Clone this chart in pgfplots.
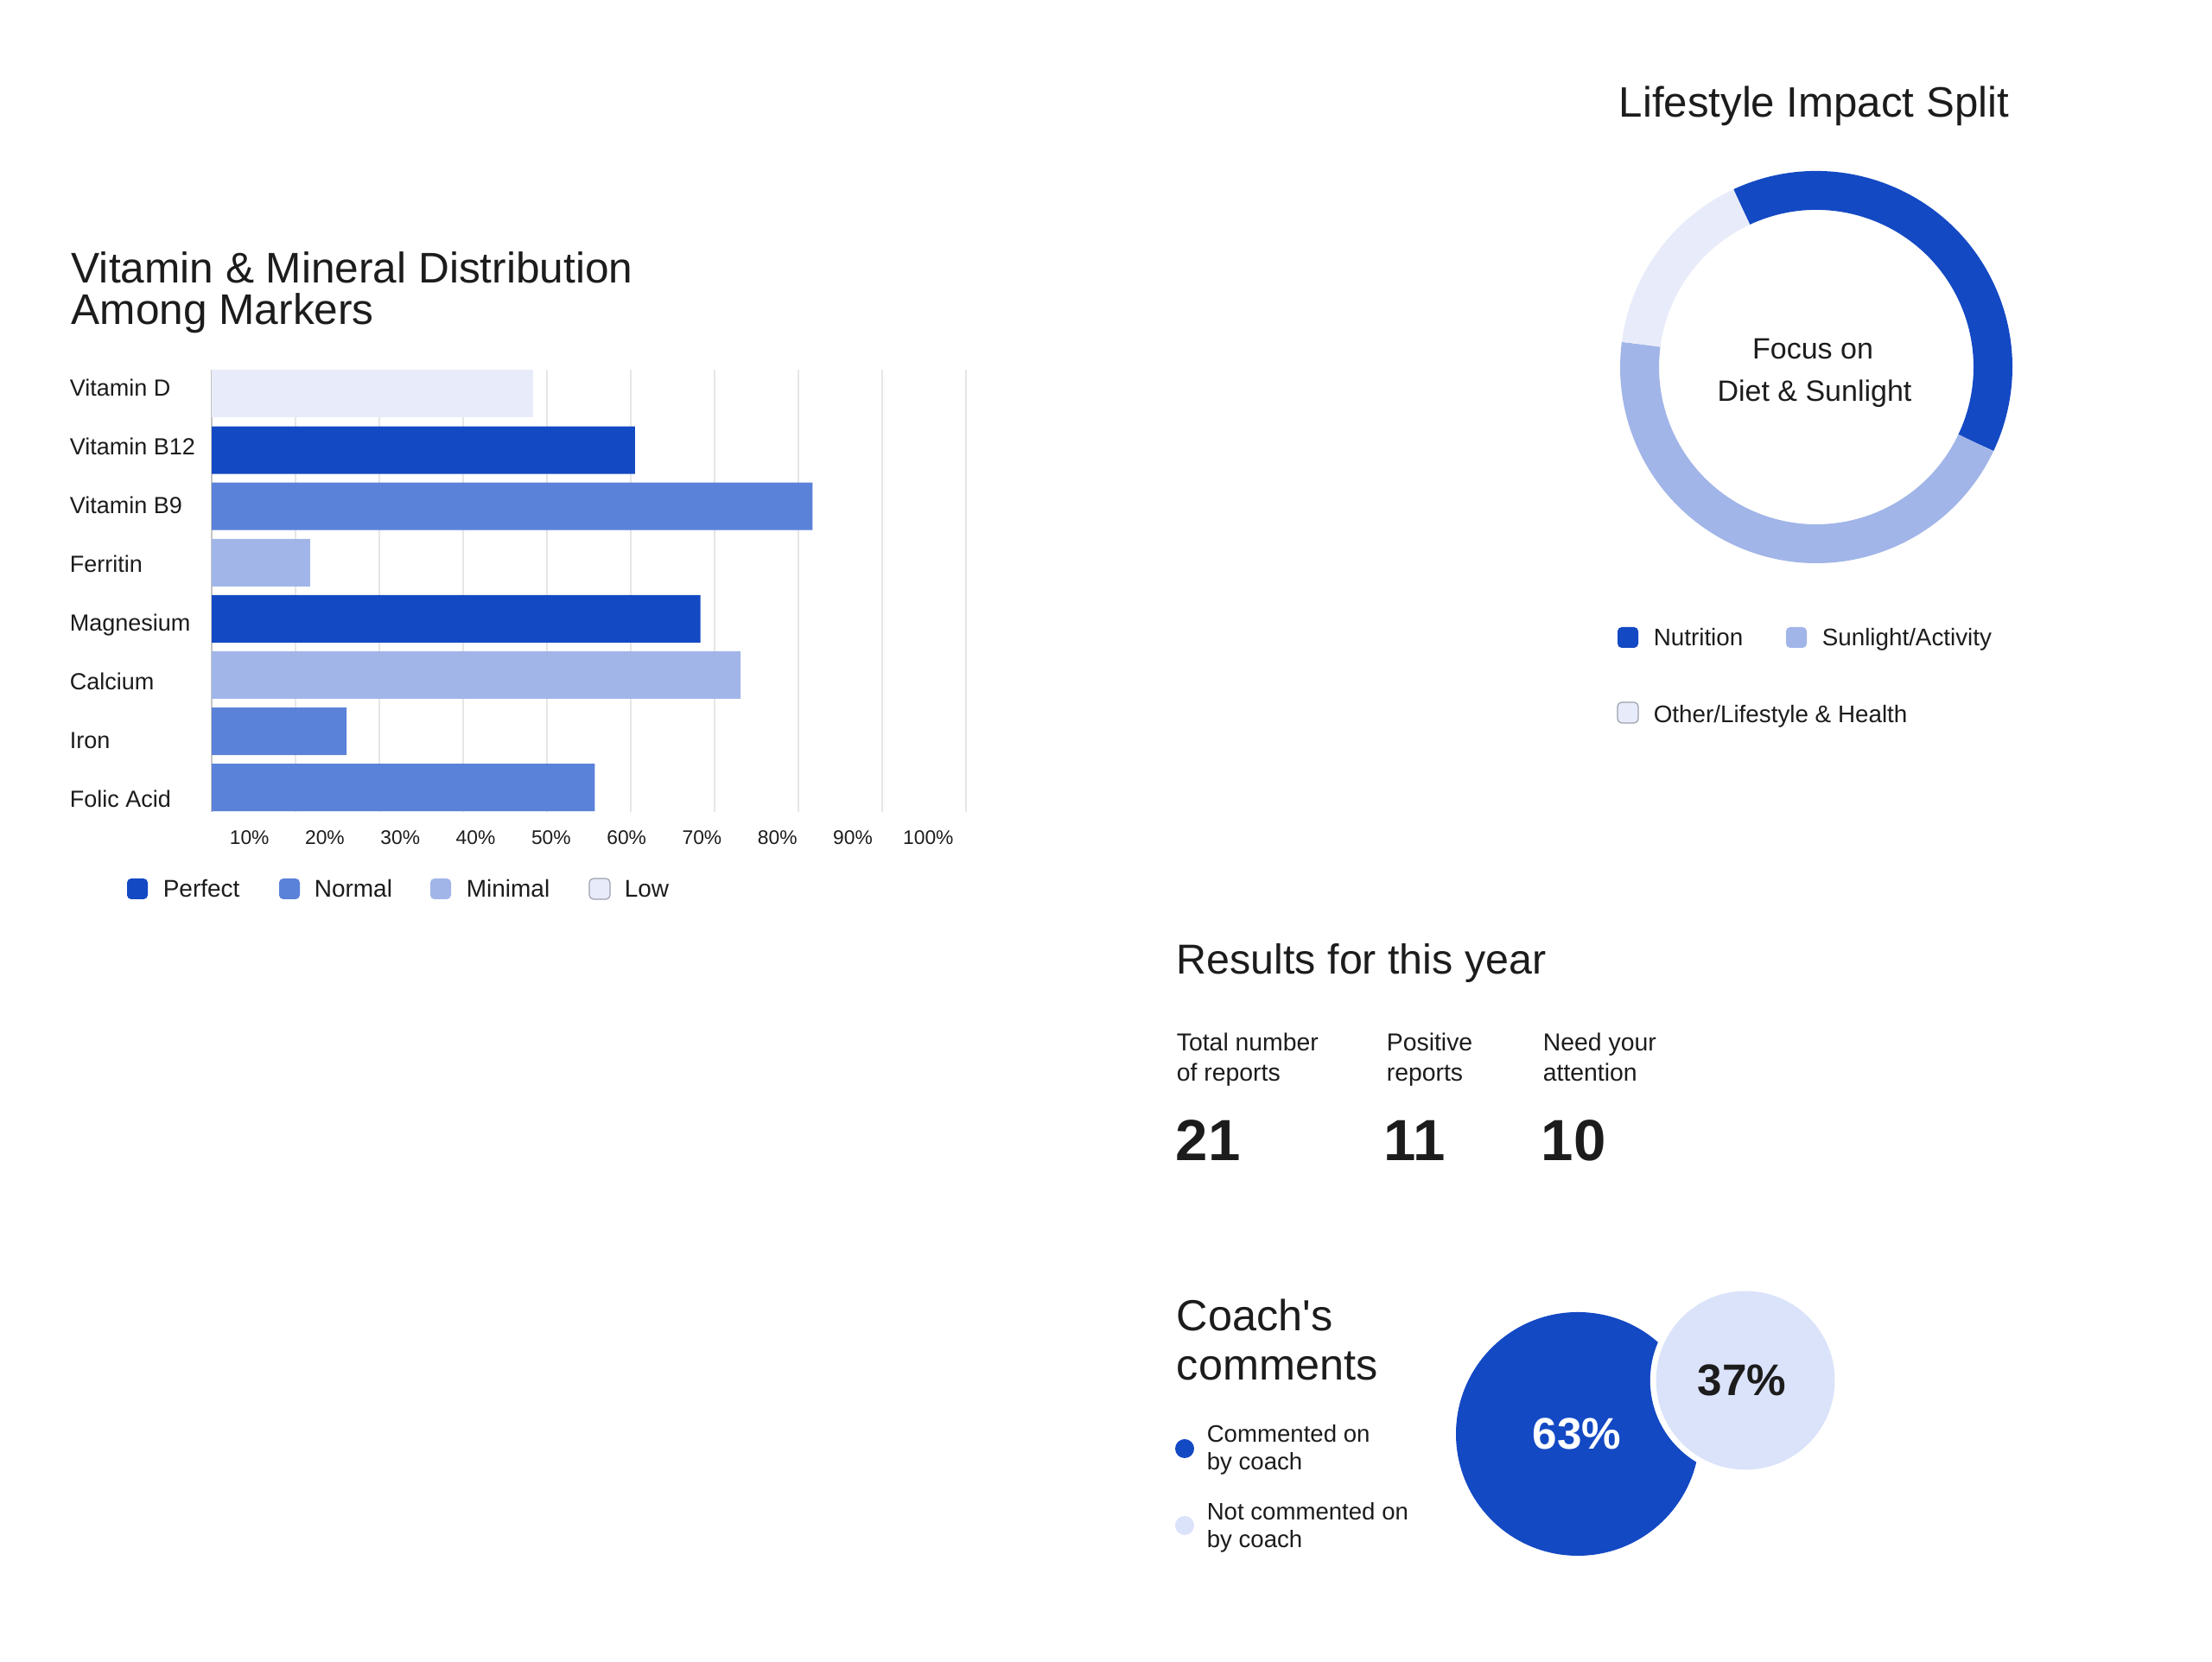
\documentclass[border=0pt]{standalone}
\usepackage{pgfplots}
\pgfplotsset{compat=1.18}
\usepackage{fontspec}
\setmainfont{Liberation Sans}
\definecolor{cP}{HTML}{1449C4}
\definecolor{cN}{HTML}{5B82D9}
\definecolor{cM}{HTML}{A1B5E8}
\definecolor{cL}{HTML}{E8ECFA}
\definecolor{cB}{HTML}{DBE3FA}
\definecolor{txt}{HTML}{1C1C1C}
\definecolor{gridc}{HTML}{E6E6E6}
\definecolor{axc}{HTML}{C4C4C4}
\definecolor{boxc}{HTML}{9CA0AE}
\newcommand{\fs}[2]{\fontsize{#1pt}{#2pt}\selectfont}
\begin{document}
\begin{tikzpicture}
\path[use as bounding box, fill=white] (0,0) rectangle (640pt,481pt);

% ---------------- bar chart ----------------
\begin{axis}[
  at={(61.25pt,246pt)}, anchor=south west,
  scale only axis, width=218.25pt, height=127.9pt,
  xmin=0, xmax=90, ymin=0.565, ymax=8.424,
  axis lines*=left,
  x axis line style={draw=none},
  y axis line style={draw=axc, line width=0.45pt},
  xtick={4.5,13.5,22.5,31.5,40.5,49.5,58.5,67.5,76.5,85.5},
  xticklabels={10\%,20\%,30\%,40\%,50\%,60\%,70\%,80\%,90\%,100\%},
  minor xtick={10,20,30,40,50,60,70,80,90},
  xminorgrids=true, xmajorgrids=false, ymajorgrids=false,
  minor grid style={draw=gridc, line width=0.4pt},
  major tick length=0pt, minor tick length=0pt,
  tick style={draw=none},
  ytick={0.803,1.847,2.891,3.935,4.978,6.022,7.066,8.110},
  yticklabels={Folic Acid,Iron,Calcium,Magnesium,Ferritin,Vitamin B9,Vitamin B12,Vitamin D},
  yticklabel style={anchor=west, inner sep=0pt, text height=4.8pt, text depth=0pt,
     xshift=-41.25pt, font=\fs{6.75}{8}, text=txt},
  xticklabel style={anchor=north, inner sep=0pt, text height=4.1pt, text depth=0pt,
     yshift=-5pt, font=\fs{5.7}{7}, text=txt},
  xbar, bar width=13.75pt, bar shift=0pt,
]
% Perfect
\addplot[fill=cP, draw=none] coordinates {(50.5,7) (58.3,4)};
% Normal
\addplot[fill=cN, draw=none] coordinates {(71.7,6) (16.1,2) (45.7,1)};
% Minimal
\addplot[fill=cM, draw=none] coordinates {(11.75,5) (63.1,3)};
% Low
\addplot[fill=cL, draw=none] coordinates {(38.3,8)};
\end{axis}

% ---------------- donut ----------------
\pgfmathsetmacro\aA{115}
\pgfmathsetmacro\aB{\aA-39*3.6}
\pgfmathsetmacro\aC{\aB-45*3.6}
\pgfmathsetmacro\aD{\aC-16*3.6}
\begin{axis}[hide axis, x=1pt, y=1pt, xmin=-60, xmax=60, ymin=-60, ymax=60,
  at={(465.5pt,314.75pt)}, anchor=south west, clip=false]
\draw[line width=11.25pt, cP] (axis cs:{51.125*cos(\aA)},{51.125*sin(\aA)}) arc[start angle=\aA, end angle=\aB, radius=51.125pt];
\draw[line width=11.25pt, cM] (axis cs:{51.125*cos(\aB)},{51.125*sin(\aB)}) arc[start angle=\aB, end angle=\aC, radius=51.125pt];
\draw[line width=11.25pt, cL] (axis cs:{51.125*cos(\aC)},{51.125*sin(\aC)}) arc[start angle=\aC, end angle=\aD, radius=51.125pt];
\end{axis}

% ---------------- bubbles ----------------
\begin{axis}[hide axis, x=1pt, y=1pt, xmin=-36, xmax=78, ymin=-36, ymax=45,
  at={(420.5pt,30pt)}, anchor=south west, clip=false]
\addplot[only marks, mark=*, mark size=35.1pt, color=cP, mark options={fill=cP, draw=cP, line width=0.3pt}] coordinates {(0,0)};
\addplot[only marks, mark=*, mark size=27.4pt, color=white, mark options={fill=white, draw=white, line width=0.3pt}] coordinates {(48.5,15.5)};
\addplot[only marks, mark=*, mark size=25.7pt, color=cB, mark options={fill=cB, draw=cB, line width=0.3pt}] coordinates {(48.5,15.5)};
\end{axis}

% ---------------- texts & legends ----------------
\begin{scope}[shift={(0pt,481pt)}, x=0.25pt, y=-0.25pt, every node/.style={inner sep=0pt, text=txt}]
\node[anchor=base west, font=\fs{12.4}{12}] at (82,328) {Vitamin \& Mineral Distribution};
\node[anchor=base west, font=\fs{12.4}{12}] at (82,376) {Among Markers};

\fill[cP, rounded corners=1.2pt] (147,1017) rectangle (171,1041);
\node[anchor=base west, font=\fs{7}{8}] at (188,1039) {Perfect};
\fill[cN, rounded corners=1.2pt] (323,1017) rectangle (347,1041);
\node[anchor=base west, font=\fs{7}{8}] at (363,1039) {Normal};
\fill[cM, rounded corners=1.2pt] (498,1017) rectangle (522,1041);
\node[anchor=base west, font=\fs{7}{8}] at (539,1039) {Minimal};
\filldraw[fill=cL, draw=boxc, line width=0.3pt, rounded corners=1.2pt] (682,1017) rectangle (706,1041);
\node[anchor=base west, font=\fs{7}{8}] at (722,1039) {Low};

\node[anchor=base west, font=\fs{12.3}{13}] at (1873,136) {Lifestyle Impact Split};
\node[anchor=base, font=\fs{8.5}{10}] at (2098,416) {Focus on};
\node[anchor=base, font=\fs{8.5}{10}] at (2100,465) {Diet \& Sunlight};

\fill[cP, rounded corners=1.2pt] (1872,726) rectangle (1896,750);
\node[anchor=base west, font=\fs{6.95}{8}] at (1913,748) {Nutrition};
\fill[cM, rounded corners=1.2pt] (2067,726) rectangle (2091,750);
\node[anchor=base west, font=\fs{6.95}{8}] at (2108,748) {Sunlight/Activity};
\filldraw[fill=cL, draw=boxc, line width=0.3pt, rounded corners=1.2pt] (1872,813) rectangle (1896,837);
\node[anchor=base west, font=\fs{6.95}{8}] at (1913,837) {Other/Lifestyle \& Health};

\node[anchor=base west, font=\fs{12.1}{13}] at (1361,1128) {Results for this year};
\node[anchor=base west, font=\fs{7.1}{8}] at (1361,1217) {Total number};
\node[anchor=base west, font=\fs{7.1}{8}] at (1361,1252) {of reports};
\node[anchor=base west, font=\fs{7.1}{8}] at (1604,1217) {Positive};
\node[anchor=base west, font=\fs{7.1}{8}] at (1604,1252) {reports};
\node[anchor=base west, font=\fs{7.1}{8}] at (1785,1217) {Need your};
\node[anchor=base west, font=\fs{7.1}{8}] at (1785,1252) {attention};
\node[anchor=base west, font=\bfseries\fs{16.8}{18}] at (1360,1344) {21};
\node[anchor=base west, font=\bfseries\fs{16.8}{18}] at (1601,1344) {11};
\node[anchor=base west, font=\bfseries\fs{16.8}{18}] at (1783,1344) {10};

\node[anchor=base west, font=\fs{12.6}{13}] at (1361,1541) {Coach\textquotesingle s};
\node[anchor=base west, font=\fs{12.6}{13}] at (1361,1598) {comments};
\fill[cP] (1371,1677) circle[radius=2.75pt];
\node[anchor=base west, font=\fs{6.9}{8}] at (1396,1670) {Commented on};
\node[anchor=base west, font=\fs{6.9}{8}] at (1396,1702) {by coach};
\fill[cB] (1371,1766) circle[radius=2.75pt];
\node[anchor=base west, font=\fs{6.9}{8}] at (1396,1760) {Not commented on};
\node[anchor=base west, font=\fs{6.9}{8}] at (1396,1792) {by coach};

\node[anchor=base, text=white, font=\bfseries\fs{12.8}{14}] at (1825,1678) {63\%};
\node[anchor=base, font=\bfseries\fs{12.8}{14}] at (2016,1616) {37\%};
\end{scope}
\end{tikzpicture}
\end{document}
